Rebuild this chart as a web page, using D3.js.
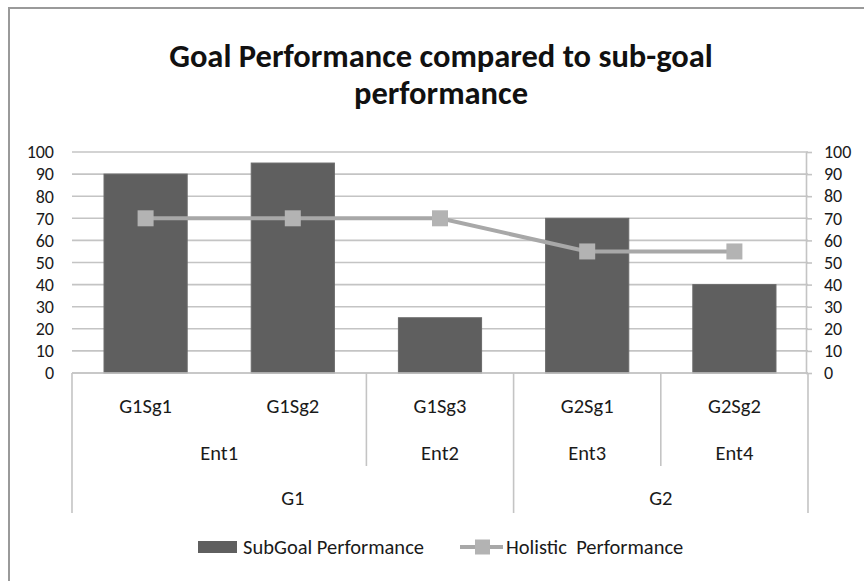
<!DOCTYPE html>
<html>
<head>
<meta charset="utf-8">
<script src="https://cdn.jsdelivr.net/npm/d3@7"></script>
<style>
  html, body { margin: 0; padding: 0; background: #fff; }
  svg { display: block; }
  text { font-family: Carlito, "Liberation Sans Narrow", "Liberation Sans", sans-serif; fill: #1a1a1a; }
</style>
</head>
<body>
<svg id="chart" width="864" height="581"></svg>
<script>
// ---- data ----
const categories = ["G1Sg1", "G1Sg2", "G1Sg3", "G2Sg1", "G2Sg2"];
const entities   = ["Ent1", "Ent1", "Ent2", "Ent3", "Ent4"];
const goals      = ["G1", "G1", "G1", "G2", "G2"];
const subGoalPerformance  = [90, 95, 25, 70, 40];
const holisticPerformance = [70, 70, 70, 55, 55];
const yTicks = [0, 10, 20, 30, 40, 50, 60, 70, 80, 90, 100];
const titleLines = ["Goal Performance compared to sub-goal", "performance"];
const seriesNames = ["SubGoal Performance", "Holistic  Performance"];

// ---- styles ----
const barColor = "#5f5f5f";
const lineColor = "#a8a8a8";
const markerColor = "#b3b3b3";
const gridColor = "#c4c4c4";
const FONT = 'Carlito, "Liberation Sans Narrow", "Liberation Sans", sans-serif';
const FS = "20.5px";
const TFS = "18px";

const svg = d3.select("#chart");

// frame (left/top edges visible)
svg.append("path")
  .attr("d", "M9,581 L9,8 L864,8")
  .attr("fill", "none").attr("stroke", "#9a9a9a").attr("stroke-width", 2);

// title
svg.append("g").selectAll("text").data(titleLines).join("text")
  .attr("x", 441).attr("y", (d, i) => 67 + i * 37)
  .attr("text-anchor", "middle")
  .style("font-size", "32.5px").style("font-weight", "bold").style("fill", "#111")
  .text(d => d);

const pLeft = 72, pRight = 808, pTop = 152, pBottom = 373;
const x = d3.scaleBand().domain(categories).range([pLeft, pRight]).padding(0);
const y = d3.scaleLinear().domain([0, 100]).range([pBottom, pTop]);

// gridlines
svg.append("g").selectAll("line").data(yTicks).join("line")
  .attr("x1", pLeft).attr("x2", pRight)
  .attr("y1", d => y(d)).attr("y2", d => y(d))
  .attr("stroke", gridColor).attr("stroke-width", 1.6);

// left axis labels
svg.append("g").selectAll("text").data(yTicks).join("text")
  .attr("x", 54).attr("y", d => y(d)).attr("dy", "0.35em")
  .attr("text-anchor", "end").style("font-size", TFS)
  .text(d => d);

// right axis
const rightAxis = svg.append("g")
  .attr("transform", `translate(${pRight - 2},0)`)
  .call(d3.axisRight(y).tickValues(yTicks).tickSize(6).tickSizeOuter(0).tickPadding(12));
rightAxis.select(".domain").attr("stroke", gridColor).attr("stroke-width", 1.6);
rightAxis.selectAll(".tick line").attr("stroke", gridColor).attr("stroke-width", 1.6);
rightAxis.selectAll(".tick text")
  .style("font-size", TFS).style("font-family", FONT)
  .attr("fill", "#1a1a1a");

// bars
const barW = x.bandwidth() * 0.565;
svg.append("g").selectAll("rect").data(subGoalPerformance).join("rect")
  .attr("x", (d, i) => x(categories[i]) + (x.bandwidth() - barW) / 2)
  .attr("y", d => y(d))
  .attr("width", barW)
  .attr("height", d => y(0) - y(d))
  .attr("fill", barColor).attr("stroke", "#6a6a6a").attr("stroke-width", 1);

// line
const line = d3.line()
  .x((d, i) => x(categories[i]) + x.bandwidth() / 2)
  .y(d => y(d));
svg.append("path").datum(holisticPerformance)
  .attr("d", line).attr("fill", "none")
  .attr("stroke", lineColor).attr("stroke-width", 4);
const ms = 16;
svg.append("g").selectAll("rect").data(holisticPerformance).join("rect")
  .attr("x", (d, i) => x(categories[i]) + x.bandwidth() / 2 - ms / 2)
  .attr("y", d => y(d) - ms / 2)
  .attr("width", ms).attr("height", ms)
  .attr("fill", markerColor);

// category axis baseline
svg.append("line")
  .attr("x1", pLeft).attr("x2", pRight).attr("y1", pBottom).attr("y2", pBottom)
  .attr("stroke", gridColor).attr("stroke-width", 1.6);

// multi-level category axis
function groupsOf(arr) {
  const out = [];
  arr.forEach((v, i) => {
    if (out.length && out[out.length - 1].name === v) out[out.length - 1].end = i;
    else out.push({ name: v, start: i, end: i });
  });
  return out;
}
const entGroups = groupsOf(entities);
const goalGroups = groupsOf(goals);
const gx0 = g => x(categories[g.start]);
const gx1 = g => x(categories[g.end]) + x.bandwidth();

// level 1 labels
svg.append("g").selectAll("text").data(categories).join("text")
  .attr("x", d => x(d) + x.bandwidth() / 2).attr("y", 406).attr("dy", "0.35em")
  .attr("text-anchor", "middle").style("font-size", FS).text(d => d);

// level 2 labels and separators
svg.append("g").selectAll("text").data(entGroups).join("text")
  .attr("x", g => (gx0(g) + gx1(g)) / 2).attr("y", 453).attr("dy", "0.35em")
  .attr("text-anchor", "middle").style("font-size", FS).text(g => g.name);
const goalBounds = [];
goalGroups.forEach(g => { [gx0(g), gx1(g)].forEach(v => { if (!goalBounds.some(b => Math.abs(b - v) < 0.5)) goalBounds.push(v); }); });
const entBounds = [];
entGroups.forEach(g => { [gx0(g), gx1(g)].forEach(v => {
  if (!goalBounds.some(b => Math.abs(b - v) < 0.5) && !entBounds.some(b => Math.abs(b - v) < 0.5)) entBounds.push(v);
}); });
svg.append("g").selectAll("line").data(entBounds).join("line")
  .attr("x1", d => d).attr("x2", d => d).attr("y1", pBottom).attr("y2", 466)
  .attr("stroke", gridColor).attr("stroke-width", 1.6);

// level 3 labels and separators
svg.append("g").selectAll("text").data(goalGroups).join("text")
  .attr("x", g => (gx0(g) + gx1(g)) / 2).attr("y", 498).attr("dy", "0.35em")
  .attr("text-anchor", "middle").style("font-size", FS).text(g => g.name);
svg.append("g").selectAll("line").data(goalBounds).join("line")
  .attr("x1", d => d).attr("x2", d => d).attr("y1", pBottom).attr("y2", 513)
  .attr("stroke", gridColor).attr("stroke-width", 1.6);

// legend
const lg = svg.append("g");
lg.append("rect").attr("x", 198).attr("y", 541).attr("width", 39).attr("height", 12).attr("fill", barColor);
lg.append("text").attr("x", 243).attr("y", 547).attr("dy", "0.35em").style("font-size", FS).text(seriesNames[0]);
lg.append("line").attr("x1", 460).attr("x2", 503).attr("y1", 547).attr("y2", 547)
  .attr("stroke", lineColor).attr("stroke-width", 4);
lg.append("rect").attr("x", 475).attr("y", 539.5).attr("width", 15).attr("height", 15).attr("fill", markerColor);
lg.append("text").attr("x", 506).attr("y", 547).attr("dy", "0.35em").style("font-size", FS)
  .style("white-space", "pre").text(seriesNames[1]);
</script>
</body>
</html>
